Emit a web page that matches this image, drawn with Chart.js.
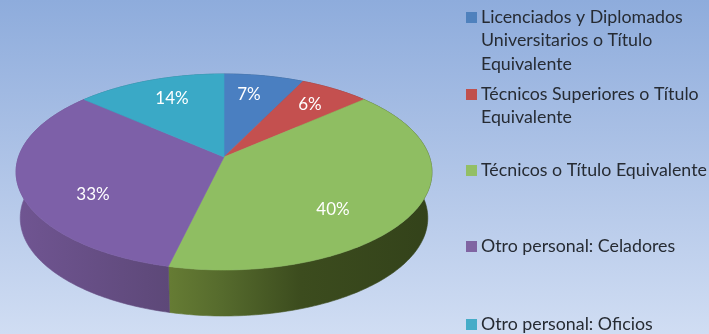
<!DOCTYPE html>
<html><head><meta charset="utf-8">
<style>html,body{margin:0;padding:0;overflow:hidden}canvas{display:block}</style>
<script src="https://cdn.jsdelivr.net/npm/chart.js@4"></script>
</head><body><div style="width:709px;height:334px"><canvas id="c" width="709" height="334"></canvas></div>
<script>
const categories = [
  ["Licenciados y Diplomados","Universitarios o Título","Equivalente"],
  ["Técnicos Superiores o Título","Equivalente"],
  ["Técnicos o Título Equivalente"],
  ["Otro personal: Celadores"],
  ["Otro personal: Oficios"]
];
const shares = [7.2, 6.3, 40.2, 32.8, 13.5];
const shareLabels = ["7%", "6%", "40%", "33%", "14%"];

const faceColors = ["#4a7fc1", "#c4504f", "#8fbe62", "#7d60a8", "#3aa9c6"];
const swatchColors = ["#4f81bd", "#c0504d", "#93bf65", "#8064a2", "#45acc8"];
const wallStops = [
  [[0,"#35587f"],[1,"#35587f"]],
  [[0,"#7f3534"],[1,"#7f3534"]],
  [[0,"#667c34"],[0.2,"#566b2d"],[0.5,"#3c4c1e"],[1,"#33421a"]],
  [[0,"#705592"],[1,"#5d4878"]],
  [[0,"#2b7186"],[1,"#2b7186"]]
];
const geom = {cx:224, cy:157, rx:205.5, ry:95.7, k:0.153, depth:46, shrink:0.98};
const legendLayout = {swatchX:466, swatchSize:11, textX:481, lineH:23.4, baselines:[23,100,176,252,330]};
const labelOffsets = [[25,-62],[86,-52],[109,53],[-131,38],[-52,-58]];

function project(theta, f, wall){
  const u = Math.sin(theta)*f, v = -Math.cos(theta)*f, d = 1 - geom.k*v;
  const s = wall ? geom.shrink : 1;
  return [geom.cx + s*geom.rx*u/d, geom.cy + geom.ry*v/d + (wall ? geom.depth : 0)];
}
function rim(a, b, wall){
  const pts = [], n = Math.max(2, Math.ceil((b-a)/(Math.PI/180)));
  for(let i=0;i<=n;i++) pts.push(project(a+(b-a)*i/n, 1, wall));
  return pts;
}
const pie3d = {
  id:'pie3d',
  beforeDraw(chart){
    const {ctx,width,height} = chart;
    const g = ctx.createLinearGradient(0,0,0,height);
    g.addColorStop(0,"#8eacdc"); g.addColorStop(0.5,"#afc4e7"); g.addColorStop(1,"#d0ddf3");
    ctx.fillStyle = g; ctx.fillRect(0,0,width,height);
  },
  beforeDatasetsDraw(chart){
    const ctx = chart.ctx, arcs = chart.getDatasetMeta(0).data;
    const spans = arcs.map(a=>[a.startAngle+Math.PI/2, a.endAngle+Math.PI/2]);
    spans.forEach(([a,b],i)=>{
      const top = rim(a,b,false), bot = rim(a,b,true).reverse();
      const xs = top.concat(bot).map(p=>p[0]);
      const g = ctx.createLinearGradient(Math.min(...xs),0,Math.max(...xs),0);
      wallStops[i].forEach(s=>g.addColorStop(s[0],s[1]));
      ctx.beginPath();
      top.concat(bot).forEach((p,j)=> j?ctx.lineTo(p[0],p[1]):ctx.moveTo(p[0],p[1]));
      ctx.closePath(); ctx.fillStyle=g; ctx.strokeStyle=g; ctx.lineWidth=0.6; ctx.fill(); ctx.stroke();
    });
    spans.forEach(([a,b],i)=>{
      ctx.beginPath(); ctx.moveTo(geom.cx,geom.cy);
      rim(a,b,false).forEach(p=>ctx.lineTo(p[0],p[1]));
      ctx.closePath(); ctx.fillStyle=faceColors[i]; ctx.strokeStyle=faceColors[i]; ctx.lineWidth=0.6; ctx.fill(); ctx.stroke();
    });
    ctx.save();
    ctx.font = '17px Lato'; ctx.fillStyle='#ffffff'; ctx.textAlign='center'; ctx.textBaseline='middle';
    shareLabels.forEach((t,i)=>ctx.fillText(t, geom.cx+labelOffsets[i][0], geom.cy+labelOffsets[i][1]));
    ctx.restore();
    return false;
  },
  afterDraw(chart){
    const ctx = chart.ctx, L = legendLayout;
    ctx.save();
    ctx.font = '17.8px Lato'; ctx.textAlign='left'; ctx.textBaseline='alphabetic';
    categories.forEach((lines,i)=>{
      ctx.fillStyle = swatchColors[i];
      ctx.fillRect(L.swatchX, L.baselines[i]-11, L.swatchSize, L.swatchSize);
      ctx.fillStyle = '#262b33';
      lines.forEach((s,j)=>ctx.fillText(s, L.textX, L.baselines[i]+j*L.lineH));
    });
    ctx.restore();
  }
};
new Chart(document.getElementById('c'),{
  type:'pie',
  data:{labels:categories.map(l=>l.join(' ')),datasets:[{data:shares,backgroundColor:faceColors,borderWidth:0}]},
  options:{responsive:false,animation:false,plugins:{legend:{display:false},tooltip:{enabled:false}}},
  plugins:[pie3d]
});
</script></body></html>
